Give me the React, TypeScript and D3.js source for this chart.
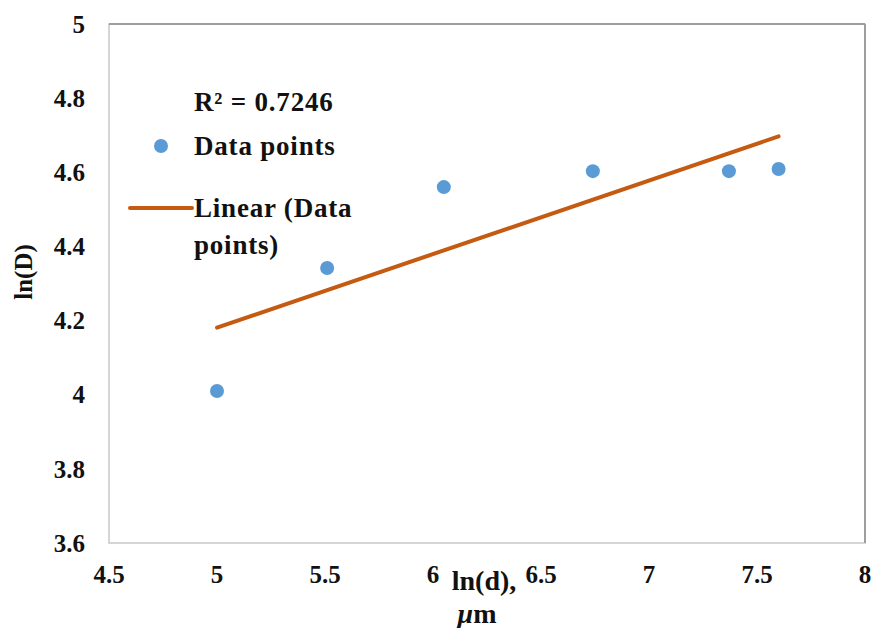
import React from "react";
import * as d3 from "d3";

const WIDTH = 874;
const HEIGHT = 628;

const lnD = [5.0, 5.51, 6.05, 6.74, 7.37, 7.6];
const lnDiff = [4.01, 4.342, 4.56, 4.603, 4.603, 4.609];
const xTicks = [4.5, 5, 5.5, 6, 6.5, 7, 7.5, 8];
const yTicks = [3.6, 3.8, 4, 4.2, 4.4, 4.6, 4.8, 5];
const r2Label = "R² = 0.7246";

const POINT_COLOR = "#5B9BD5";
const LINE_COLOR = "#C55A11";
const FONT = "Liberation Serif";

const margin = { top: 24, right: 9, bottom: 85, left: 109 };

export default function App() {
  const x = d3
    .scaleLinear()
    .domain([4.5, 8])
    .range([margin.left, WIDTH - margin.right]);
  const y = d3
    .scaleLinear()
    .domain([3.6, 5])
    .range([HEIGHT - margin.bottom, margin.top]);

  // least squares trendline
  const mx = d3.mean(lnD) as number;
  const my = d3.mean(lnDiff) as number;
  const sxy = d3.sum(lnD, (v, i) => (v - mx) * (lnDiff[i] - my));
  const sxx = d3.sum(lnD, (v) => (v - mx) ** 2);
  const slope = sxy / sxx;
  const icpt = my - slope * mx;
  const x0 = d3.min(lnD) as number;
  const x1 = d3.max(lnD) as number;
  const trend = d3.line<number>()
    .x((d) => x(d))
    .y((d) => y(icpt + slope * d))([x0, x1]);

  const [left, right] = x.range();
  const [bottom, top] = y.range();

  return (
    <svg
      width={WIDTH}
      height={HEIGHT}
      style={{ position: "absolute", left: 0, top: 0, background: "#fff", fontFamily: FONT, fontWeight: 700 }}
    >
      <rect x={left} y={top} width={right - left} height={bottom - top} fill="#fff" stroke="#c8c8c8" strokeWidth={1.5} />
      <line x1={left} x2={right} y1={top} y2={top} stroke="#9e9e9e" strokeWidth={2} />
      <line x1={right} x2={right} y1={top} y2={bottom} stroke="#9e9e9e" strokeWidth={2} />

      {yTicks.map((t) => (
        <text key={t} x={left - 24} y={y(t)} dy="0.35em" textAnchor="end" fontSize={25} fill="#111">
          {t}
        </text>
      ))}
      {xTicks.map((t) => (
        <text key={t} x={x(t)} y={bottom + 40} textAnchor="middle" fontSize={25} fill="#111">
          {t}
        </text>
      ))}

      <text x={484} y={590} textAnchor="middle" fontSize={28} fill="#111">ln(d),</text>
      <text x={477} y={623} textAnchor="middle" fontSize={28} fill="#111">
        <tspan fontStyle="italic">μ</tspan>m
      </text>
      <text transform={`translate(32 ${272}) rotate(-90)`} textAnchor="middle" fontSize={25} fill="#111">
        ln(D)
      </text>

      <path d={trend ?? ""} fill="none" stroke={LINE_COLOR} strokeWidth={4} strokeLinecap="round" />
      {lnD.map((v, i) => (
        <circle key={i} cx={x(v)} cy={y(lnDiff[i])} r={7} fill={POINT_COLOR} />
      ))}

      <g fontSize={27} fill="#111" letterSpacing={0.8}>
        <text x={194} y={102} dy="0.35em">{r2Label}</text>
        <circle cx={161} cy={146} r={7} fill={POINT_COLOR} />
        <text x={194} y={146} dy="0.35em">Data points</text>
        <line x1={130} x2={192} y1={208} y2={208} stroke={LINE_COLOR} strokeWidth={4} strokeLinecap="round" />
        <text x={194} y={208} dy="0.35em">Linear (Data</text>
        <text x={194} y={245} dy="0.35em">points)</text>
      </g>
    </svg>
  );
}
